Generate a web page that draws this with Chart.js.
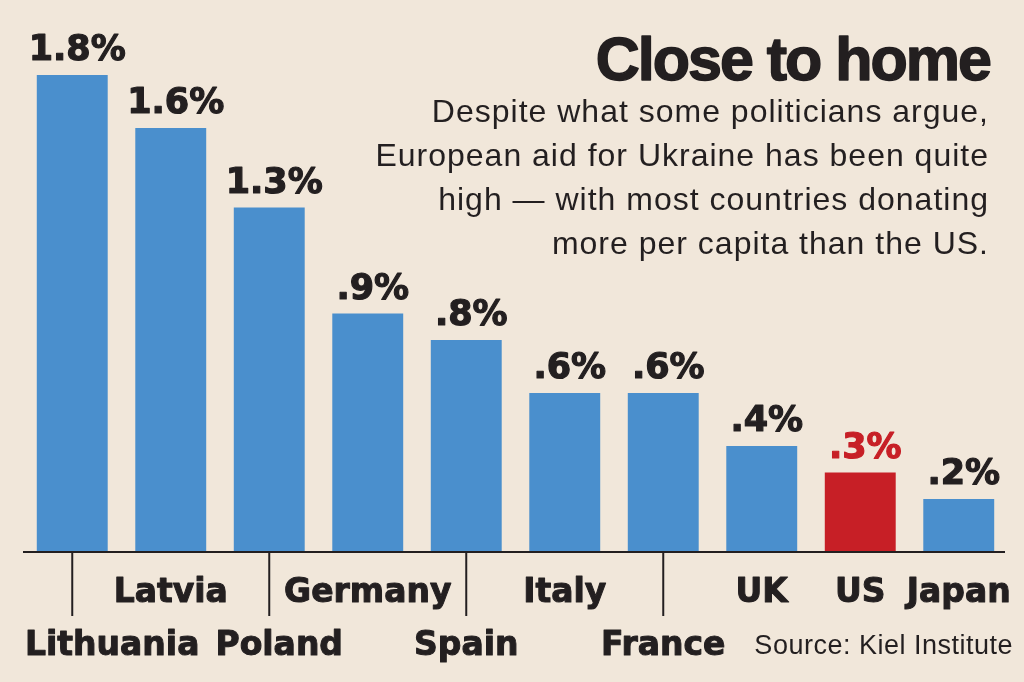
<!DOCTYPE html>
<html>
<head>
<meta charset="utf-8">
<script src="https://cdn.jsdelivr.net/npm/chart.js@4/dist/chart.umd.min.js"></script>
<style>
body { margin: 0; background: #f1e7da; }
canvas { display: block; }
</style>
</head>
<body>
<canvas id="aid_chart" width="1024" height="682"></canvas>
<script>
// aid to Ukraine, % of GDP (Kiel Institute)
var countries = ['Lithuania', 'Latvia', 'Poland', 'Germany', 'Spain', 'Italy', 'France', 'UK', 'US', 'Japan']
var aidShare = [1.8, 1.6, 1.3, 0.9, 0.8, 0.6, 0.6, 0.4, 0.3, 0.2]
var lowerRow = ['Lithuania', 'Poland', 'Spain', 'France']
var highlight = 'US'

var titleText = 'Close to home'
var subtitleLines = [
	'Despite what some politicians argue,',
	'European aid for Ukraine has been quite',
	'high \u2014 with most countries donating',
	'more per capita than the US.'
]
var sourceText = 'Source: Kiel Institute'

var ink = '#231f20'
var blue = '#4a8fcd'
var red = '#c71f26'
var paper = '#f1e7da'

function fmtShare(v) {
	// 0.9 -> ".9%"
	return v.toFixed(1).replace(/^0/, '') + '%'
}

// fill + thin stroke, to get closer to the heavy display face
function heavyText(ctx, txt, x, y, color, weight) {
	ctx.fillStyle = color
	ctx.strokeStyle = color
	ctx.lineWidth = weight
	ctx.lineJoin = 'round'
	ctx.strokeText(txt, x, y)
	ctx.fillText(txt, x, y)
}

var decorPlugin = {
	id: 'decor',
	beforeDraw: function (chart) {
		var ctx = chart.ctx
		ctx.save()
		ctx.fillStyle = paper
		ctx.fillRect(0, 0, chart.width, chart.height)
		ctx.restore()
	},
	afterDraw: function (chart) {
		var ctx = chart.ctx
		var xs = chart.scales.x
		var ys = chart.scales.y
		var area = chart.chartArea
		var base = ys.getPixelForValue(0)
		var meta = chart.getDatasetMeta(0)
		ctx.save()

		// baseline
		ctx.strokeStyle = ink
		ctx.lineWidth = 2
		ctx.beginPath()
		ctx.moveTo(area.left, base)
		ctx.lineTo(area.right - 3, base)
		ctx.stroke()

		// value labels
		ctx.font = 'bold 35px "DejaVu Sans"'
		ctx.textAlign = 'center'
		ctx.textBaseline = 'alphabetic'
		meta.data.forEach(function (bar, i) {
			var col = countries[i] == highlight ? red : ink
			heavyText(ctx, fmtShare(aidShare[i]), bar.x + 5, bar.y - 15, col, 1.2)
		})

		// category labels, staggered on two rows
		ctx.font = 'bold 33px "DejaVu Sans"'
		var prevEnd = 9
		for (var i = 0; i < countries.length; i++) {
			var x = xs.getPixelForValue(i)
			var w = ctx.measureText(countries[i]).width
			if (lowerRow.indexOf(countries[i]) >= 0) {
				ctx.strokeStyle = ink
				ctx.lineWidth = 2
				ctx.beginPath()
				ctx.moveTo(x, base)
				ctx.lineTo(x, base + 64)
				ctx.stroke()
				var left = Math.max(x - w / 2, prevEnd + 16)
				ctx.textAlign = 'left'
				heavyText(ctx, countries[i], left, 655, ink, 1)
				prevEnd = left + w
			} else {
				ctx.textAlign = 'center'
				heavyText(ctx, countries[i], x, 602, ink, 1)
			}
		}

		// title + subtitle
		ctx.textAlign = 'right'
		ctx.font = 'bold 61px "Liberation Sans"'
		ctx.letterSpacing = '-2px'
		heavyText(ctx, titleText, 990, 80, ink, 1.5)
		ctx.letterSpacing = '1px'
		ctx.fillStyle = ink
		ctx.font = '32px "Liberation Sans"'
		for (var k = 0; k < subtitleLines.length; k++) {
			ctx.fillText(subtitleLines[k], 989, 122 + 44 * k)
		}

		// source
		ctx.letterSpacing = '0.5px'
		ctx.font = '27px "Liberation Sans"'
		ctx.fillText(sourceText, 1013, 654)
		ctx.restore()
	}
}

var aidChart = new Chart(document.getElementById('aid_chart'), {
	type: 'bar',
	data: {
		labels: countries,
		datasets: [{
			data: aidShare,
			backgroundColor: countries.map(function (c) { return c == highlight ? red : blue }),
			borderWidth: 0,
			barPercentage: 0.72,
			categoryPercentage: 1.0
		}]
	},
	options: {
		responsive: false,
		animation: false,
		devicePixelRatio: 1,
		layout: { padding: { left: 23, right: 16, top: 22, bottom: 130 } },
		plugins: {
			legend: { display: false },
			tooltip: { enabled: false }
		},
		scales: {
			x: { display: false },
			y: { display: false, min: 0, max: 2.0 }
		}
	},
	plugins: [decorPlugin]
})
</script>
</body>
</html>
